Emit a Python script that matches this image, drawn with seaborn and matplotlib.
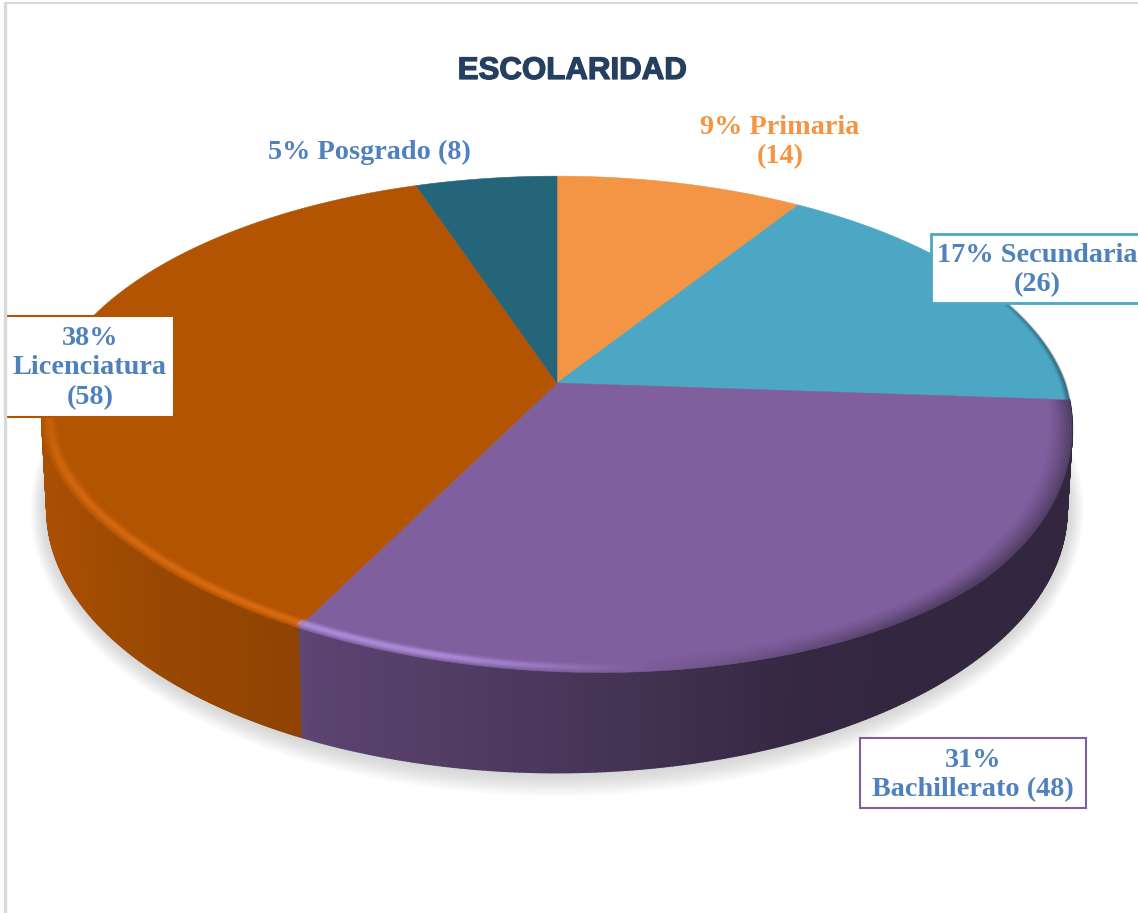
import numpy as np
import matplotlib
matplotlib.use("Agg")
import matplotlib.pyplot as plt
import matplotlib.patheffects as pe
import seaborn as sns
from matplotlib.collections import PolyCollection, LineCollection
from matplotlib.colors import to_rgb

# Datos del grafico
categorias = ["Primaria", "Secundaria", "Bachillerato", "Licenciatura", "Posgrado"]
valores = [14, 26, 48, 58, 8]
etiquetas = ["9% Primaria\n(14)", "17% Secundaria\n(26)", "31%\nBachillerato (48)",
             "38%\nLicenciatura\n(58)", "5% Posgrado (8)"]
colores = ["#F39545", "#4BA7C3", "#7F5F9D", "#B35403", "#256579"]
color_texto = "#4F81BD"
titulo = "ESCOLARIDAD"

sns.set_theme(style="white")
paleta = sns.color_palette(colores)

fig = plt.figure(figsize=(11.38, 9.13), dpi=100, facecolor="white")
ax = fig.add_axes([0, 0, 1, 1])
ax.set_xlim(0, 1138)
ax.set_ylim(913, 0)
ax.axis("off")


# Proyeccion en perspectiva del disco (t=0 cara superior, t=1 base)
def proyectar(theta, r=1.0, t=0.0):
    x = r * np.sin(theta)
    y = r * np.cos(theta)
    d = 1 + 0.165 * y
    px = 508 * (1 - 0.01 * t) * x / d
    py = 424 + (383 - 424 - 241 * y / d) * (1 + 0.06 * t) + 86 * t
    py = py + 0.04 * px * np.clip(-y * 1.5, 0, 1) * (1 - t)
    return 557 + px, py


# Angulos de cada rebanada, en sentido horario desde arriba
limites = np.radians(np.concatenate([[0], np.cumsum(valores)]) / sum(valores) * 360)

# Sombra suave bajo la base
th = np.linspace(0, 2 * np.pi, 300)
bx, by = proyectar(th, 1.0, 1.0)
for g in np.linspace(24, 1, 16):
    sx = 557 + (bx - 557) * (1 + 0.7 * g / 510)
    sy = 510 + (by - 510) * (1 + g / 263)
    ax.fill(sx, sy, color="#9a9a9a", alpha=0.028, lw=0)

# Pared lateral con degradado horizontal
x_sombra = [40, 150, 300, 310, 557, 800, 900, 1080]
f_naranja = [0.95, 0.86, 0.80, 0.80, 0.80, 0.80, 0.80, 0.80]
f_morado = [0.75, 0.75, 0.75, 0.72, 0.58, 0.42, 0.40, 0.40]
for i in [2, 3]:
    a0 = max(limites[i], np.radians(90))
    a1 = min(limites[i + 1], np.radians(280))
    aa = np.linspace(a0, a1, 260)
    cuads = []
    cols = []
    for a, b in zip(aa[:-1], aa[1:]):
        x0, y0 = proyectar(a, 1.0, 0.0)
        x1, y1 = proyectar(b, 1.0, 0.0)
        x2, y2 = proyectar(b, 1.0, 1.0)
        x3, y3 = proyectar(a, 1.0, 1.0)
        cuads.append([(x0, y0), (x1, y1), (x2, y2), (x3, y3)])
        f = np.interp((x0 + x3) / 2, x_sombra, f_naranja if i == 3 else f_morado)
        cols.append(tuple(np.array(to_rgb(paleta[i])) * f))
    ax.add_collection(PolyCollection(cuads, facecolors=cols, edgecolors=cols, linewidths=1.3))

# Cara superior
for i in range(len(valores)):
    aa = np.linspace(limites[i], limites[i + 1], 200)
    px, py = proyectar(aa)
    cx, cy = proyectar(0.0, 0.0)
    ax.fill(np.r_[cx, px], np.r_[cy, py], color=paleta[i], lw=0.4, ec=paleta[i])

# Bisel: brillo a la izquierda y oscuro a la derecha del borde frontal
aa = np.radians(np.linspace(55, 290, 500))
for r in np.arange(0.955, 1.0005, 0.003):
    px, py = proyectar(aa, r)
    segs = [[(px[j], py[j]), (px[j + 1], py[j + 1])] for j in range(len(aa) - 1)]
    cols = []
    brillo = np.exp(-((r - 0.985) / 0.009) ** 2)
    for j in range(len(aa) - 1):
        g = np.degrees(aa[j])
        if g > np.degrees(limites[3]):
            base = (0.93, 0.47, 0.10)
            al = 0.40 * brillo * np.clip((285 - g) / 40, 0, 1)
        elif g > 172:
            base = (0.72, 0.60, 0.92)
            al = 0.50 * brillo * np.clip((g - 172) / 20, 0, 1)
        elif g > np.degrees(limites[2]):
            base = (0.20, 0.16, 0.25)
            al = 0.45 * ((r - 0.955) / 0.045) ** 1.5 * np.clip((172 - g) / 40, 0, 1)
        else:
            base = (0.15, 0.25, 0.30)
            al = 0.45 * np.clip((r - 0.99) / 0.01, 0, 1) * np.clip((g - 55) / 35, 0, 1)
        cols.append((*base, al))
    ax.add_collection(LineCollection(segs, colors=cols, linewidths=1.8, capstyle="butt"))

# Titulo y etiquetas
ax.text(572.5, 71, titulo, ha="center", va="center", fontsize=22.5, fontweight="bold",
        family="Liberation Sans", color="#243F60",
        path_effects=[pe.withStroke(linewidth=0.9, foreground="#243F60")])
fuente = dict(family="Liberation Serif", fontweight="bold", fontsize=20.3,
              ha="center", va="center", linespacing=1.24)
ax.text(780, 142, etiquetas[0], color=paleta[0], **fuente)
ax.text(369, 152, etiquetas[4], color=color_texto, **fuente)

# Etiquetas con caja
ax.fill([931, 1160, 1160, 931], [234, 234, 303, 303], fc="white", ec=paleta[1], lw=2, zorder=5)
ax.text(1037, 270, etiquetas[1], color=color_texto, zorder=6, **fuente)
ax.fill([5.5, 174, 174, 5.5], [316, 316, 417, 417], fc="white", ec=paleta[3], lw=1.5, zorder=5)
ax.text(90, 368, etiquetas[3], color=color_texto, zorder=6, **fuente)
ax.fill([860, 1086, 1086, 860], [738, 738, 808, 808], fc="white", ec=paleta[2], lw=1.5, zorder=5)
ax.text(973, 775, etiquetas[2], color=color_texto, zorder=6, **fuente)

# Marco de la imagen
ax.plot([5.5, 5.5], [3, 913], color="#D9D9D9", lw=2.4, zorder=7)
ax.plot([5.5, 1138], [3, 3], color="#D9D9D9", lw=1.5, zorder=7)

fig.savefig("out.png", dpi=100, facecolor="white")
